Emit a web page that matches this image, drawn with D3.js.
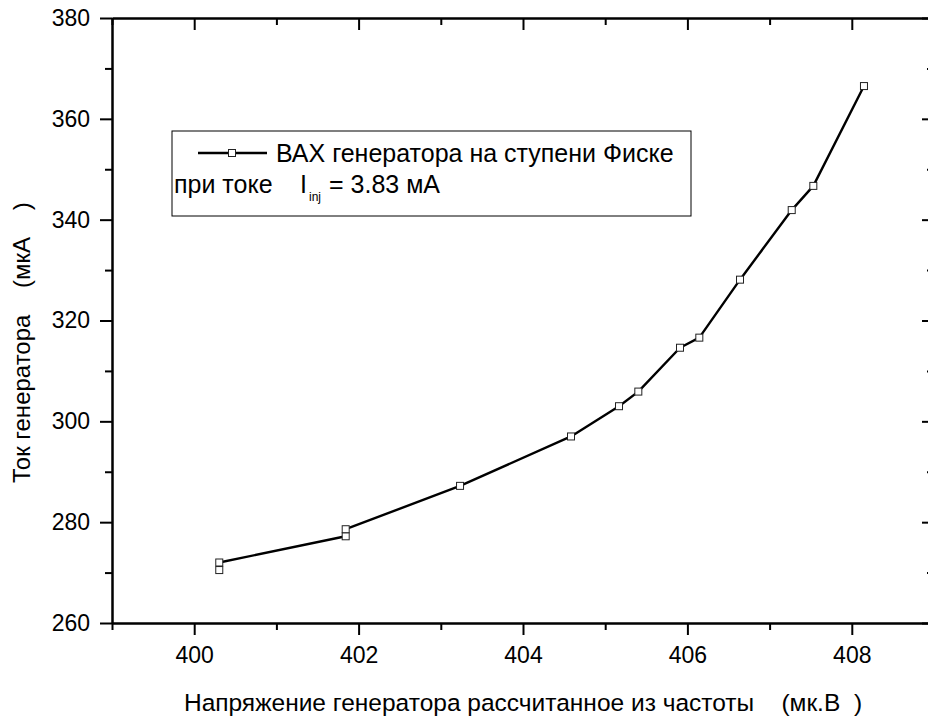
<!DOCTYPE html>
<html>
<head>
<meta charset="utf-8">
<script src="https://cdn.jsdelivr.net/npm/d3@7"></script>
<style>
  body { margin: 0; background: #fff; }
  svg text { font-family: Arial, "Liberation Sans", sans-serif; fill: #000; }
</style>
</head>
<body>
<div id="vis-container"></div>
<script>
"use strict";

// Voltage computed from frequency (мкВ) and generator current (мкА)
const voltage = [400.305, 400.305, 401.843, 401.843, 403.234, 404.584, 405.168,
                 405.403, 405.910, 406.145, 406.640, 407.269, 407.532, 408.148];
const current = [270.5, 272.0, 277.2, 278.6, 287.2, 297.0, 303.0,
                 305.9, 314.6, 316.6, 328.1, 341.9, 346.7, 366.5];

const xTicks = [400, 402, 404, 406, 408];
const xMinor = [399, 401, 403, 405, 407, 409];
const yTicks = [260, 280, 300, 320, 340, 360, 380];
const yMinor = [270, 290, 310, 330, 350, 370];

const xTitle = "Напряжение генератора рассчитанное из частоты    (мк.В  )";
const yTitle = "Ток генератора    (мкА    )";
const legendLine1 = "ВАХ генератора на ступени Фиске";
const legendLine2 = "при токе";
const legendI = "I";
const legendSub = "inj";
const legendLine2b = "= 3.83 мА";

function mainIndex()
{
    const width = 928;
    const height = 718;

    // plot frame (right edge sits just outside the window)
    const frame = { left: 112, right: 934, top: 18, bottom: 623 };

    const x = d3.scaleLinear().domain([399, 409]).range([frame.left, frame.right]);
    const y = d3.scaleLinear().domain([260, 380]).range([frame.bottom, frame.top]);

    const svg = d3.select("#vis-container")
        .append("svg")
        .attr("width", width)
        .attr("height", height);

    // minor ticks
    const minor = (axis, vals, size) => axis.tickValues(vals).tickSize(size).tickFormat("").tickSizeOuter(0);

    svg.append("g").attr("transform", `translate(0,${frame.bottom})`)
        .call(minor(d3.axisBottom(x), xMinor, 7));
    svg.append("g").attr("transform", `translate(0,${frame.top})`)
        .call(minor(d3.axisTop(x), xMinor, -7));
    svg.append("g").attr("transform", `translate(${frame.left},0)`)
        .call(minor(d3.axisLeft(y), yMinor, 7));
    svg.append("g").attr("transform", `translate(${frame.right},0)`)
        .call(minor(d3.axisRight(y), yMinor, -7));

    // major ticks
    svg.append("g").attr("class", "axis")
        .attr("transform", `translate(0,${frame.bottom})`)
        .call(d3.axisBottom(x).tickValues(xTicks).tickSize(12).tickSizeOuter(0).tickPadding(12));
    svg.append("g").attr("class", "axis")
        .attr("transform", `translate(0,${frame.top})`)
        .call(d3.axisTop(x).tickValues(xTicks).tickSize(-12).tickSizeOuter(0).tickFormat(""));
    svg.append("g").attr("class", "axis")
        .attr("transform", `translate(${frame.left},0)`)
        .call(d3.axisLeft(y).tickValues(yTicks).tickSize(12).tickSizeOuter(0).tickPadding(10));
    svg.append("g").attr("class", "axis")
        .attr("transform", `translate(${frame.right},0)`)
        .call(d3.axisRight(y).tickValues(yTicks).tickSize(-12).tickSizeOuter(0).tickFormat(""));

    svg.selectAll(".domain, .tick line")
        .attr("stroke", "#000")
        .attr("stroke-width", 2);

    svg.selectAll(".tick text")
        .attr("fill", "#000")
        .style("font-size", "23px")
        .style("font-family", "Arial, 'Liberation Sans', sans-serif");

    // data line
    const points = voltage.map((v, i) => ({ v: v, c: current[i] }));

    const line = d3.line()
        .x(d => x(d.v))
        .y(d => y(d.c));

    svg.append("path")
        .datum(points)
        .attr("fill", "none")
        .attr("stroke", "#000")
        .attr("stroke-width", 2.4)
        .attr("stroke-linejoin", "round")
        .attr("d", line);

    const ms = 7;
    svg.selectAll(".pt")
        .data(points)
        .enter()
        .append("rect")
        .attr("class", "pt")
        .attr("x", d => x(d.v) - ms / 2)
        .attr("y", d => y(d.c) - ms / 2)
        .attr("width", ms)
        .attr("height", ms)
        .attr("fill", "#fff")
        .attr("stroke", "#222")
        .attr("stroke-width", 1);

    // legend
    const legend = svg.append("g").attr("id", "legend");

    legend.append("rect")
        .attr("x", 172)
        .attr("y", 131)
        .attr("width", 519)
        .attr("height", 85)
        .attr("fill", "#fff")
        .attr("stroke", "#000")
        .attr("stroke-width", 1);

    legend.append("line")
        .attr("x1", 198).attr("x2", 267)
        .attr("y1", 153).attr("y2", 153)
        .attr("stroke", "#000")
        .attr("stroke-width", 2.4);

    legend.append("rect")
        .attr("x", 232 - ms / 2)
        .attr("y", 153 - ms / 2)
        .attr("width", ms)
        .attr("height", ms)
        .attr("fill", "#fff")
        .attr("stroke", "#222")
        .attr("stroke-width", 1);

    legend.append("text")
        .attr("x", 276)
        .attr("y", 162)
        .style("font-size", "25px")
        .text(legendLine1);

    const l2 = legend.append("text")
        .attr("x", 174)
        .attr("y", 193)
        .style("font-size", "25px");
    l2.append("tspan").text(legendLine2);
    l2.append("tspan")
        .attr("x", 300)
        .text(legendI);
    l2.append("tspan")
        .attr("x", 309)
        .attr("y", 201)
        .style("font-size", "12px")
        .text(legendSub);
    l2.append("tspan")
        .attr("x", 329)
        .attr("y", 193)
        .text(legendLine2b);

    // axis titles, centred on the plot frame
    svg.append("text")
        .attr("x", (frame.left + frame.right) / 2)
        .attr("y", 711)
        .attr("text-anchor", "middle")
        .style("font-size", "24.5px")
        .style("white-space", "pre")
        .text(xTitle);

    svg.append("text")
        .attr("transform", "rotate(-90)")
        .attr("x", -483)
        .attr("y", 30)
        .style("font-size", "24px")
        .style("white-space", "pre")
        .text(yTitle);
}

document.addEventListener("DOMContentLoaded", mainIndex);
</script>
</body>
</html>
